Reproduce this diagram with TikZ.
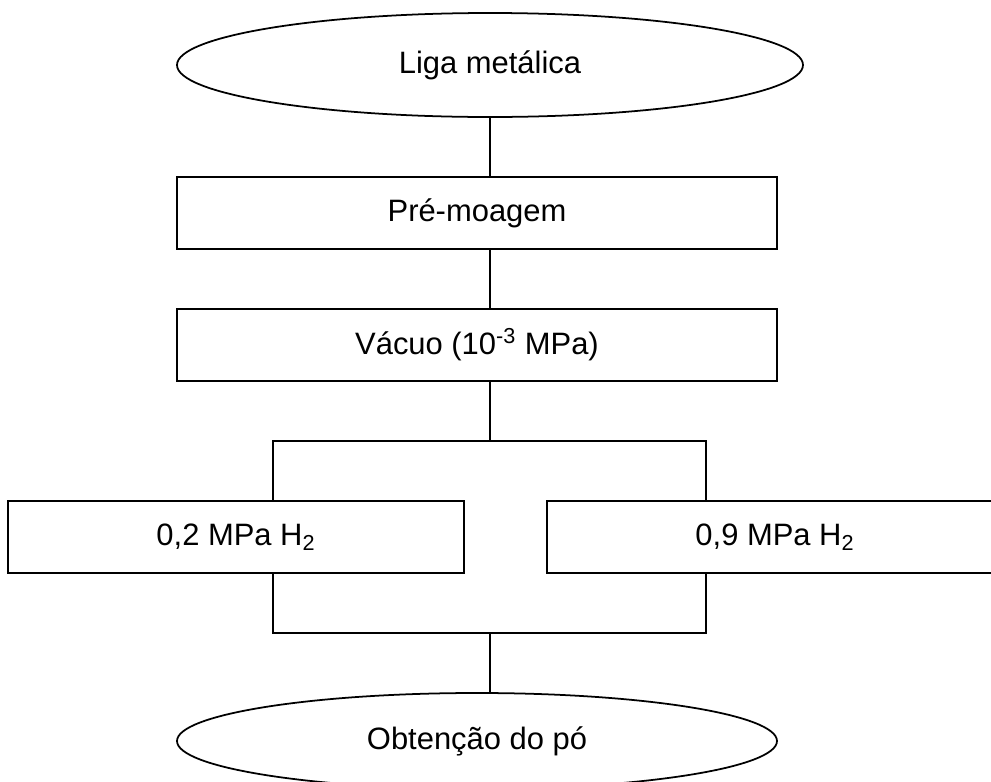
\documentclass[tikz,border=0pt]{standalone}
\usepackage{fontspec}
\setmainfont{Liberation Sans}
\usetikzlibrary{shapes.geometric,positioning}

\begin{document}
\begin{tikzpicture}[
    line width=1pt,
    term/.style={draw, ellipse, inner sep=0pt, minimum width=12.0cm, minimum height=1.92cm, font=\fontsize{17.6}{21}\selectfont},
    proc/.style={draw, rectangle, inner sep=0pt, minimum width=12.0cm, minimum height=1.44cm, font=\fontsize{17.6}{21}\selectfont},
    gas/.style={proc, minimum width=9.12cm}
]
    \useasboundingbox (0,0) rectangle (19.82,-15.64);

    % Main column
    \node[term, minimum width=12.52cm, minimum height=2.08cm] (liga) at (9.80,-1.30) {Liga metálica};
    \node[proc] (pre) at (9.54,-4.26) {Pré-moagem};
    \node[proc] (vac) at (9.54,-6.90) {Vácuo (10\textsuperscript{-3} MPa)};

    % Hydrogen pressures
    \node[gas] (dois) at (4.72,-10.74) {0,2 MPa H\textsubscript{2}};
    \node[gas] (nove) at (15.50,-10.74) {0,9 MPa H\textsubscript{2}};

    \node[term] (obt) at (9.54,-14.82) {Obtenção do pó};

    % Split and join points
    \coordinate (split) at (9.80,-8.82);
    \coordinate (bl) at (5.46,-8.82);
    \coordinate (br) at (14.12,-8.82);
    \coordinate (join) at (9.80,-12.66);
    \coordinate (jl) at (5.46,-12.66);
    \coordinate (jr) at (14.12,-12.66);

    \draw (liga.south) -- (liga.south |- pre.north);
    \draw (pre.south -| split) -- (vac.north -| split);
    \draw (vac.south -| split) -- (split);
    \draw (bl |- dois.north) -- (bl) -- (br) -- (br |- nove.north);
    \draw (jl |- dois.south) -- (jl) -- (jr) -- (jr |- nove.south);
    \draw (join) -- (join |- obt.north);
\end{tikzpicture}
\end{document}
